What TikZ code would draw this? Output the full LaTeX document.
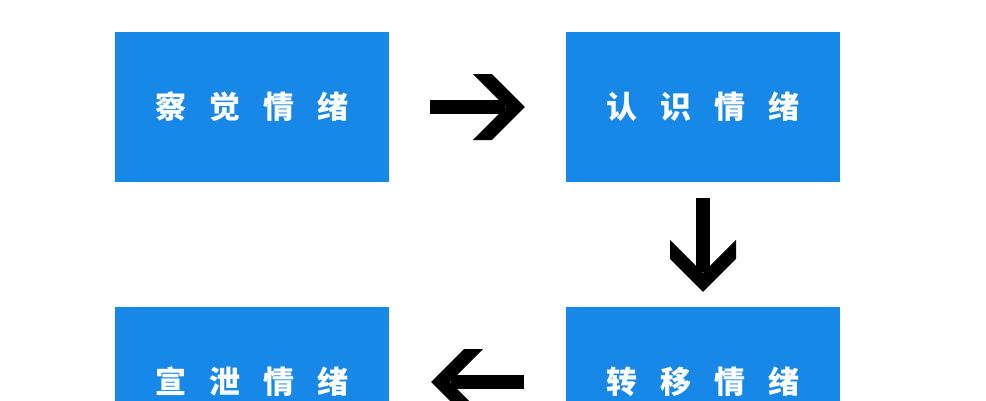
\documentclass[tikz,border=0pt]{standalone}
\usepackage{fontspec}
\newfontfamily\cjk{Noto Sans CJK SC}
\usetikzlibrary{calc}
\definecolor{boxblue}{RGB}{23,135,232}
\begin{document}
\begin{tikzpicture}[x=1pt,y=-1pt,
  box/.style={fill=boxblue, minimum width=274pt, minimum height=150pt, inner sep=0pt,
    text=white, font=\cjk\bfseries\fontsize{31}{31}\selectfont},
  shaft/.style={line width=13.5pt, black},
  headfill/.style={fill=black}]
\fill[white] (0,0) rectangle (986,400);
\useasboundingbox (0,0) rectangle (986,400);
\newcommand{\gp}{\hspace{23pt}}
\node[box] (a) at (252,107) {察\gp 觉\gp 情\gp 绪};
\node[box] (b) at (703,107) {认\gp 识\gp 情\gp 绪};
\node[box] (c) at (703,382) {转\gp 移\gp 情\gp 绪};
\node[box] (d) at (252,382) {宣\gp 泄\gp 情\gp 绪};
% right arrow a -> b
\path (a.east) ++(41,0) coordinate (ra1);
\path (b.west) ++(-41,0) coordinate (ra2);
\draw[shaft] (ra1) -- ($(ra2)+(-20,0)$);
\fill[headfill] (ra2) -- ++(-33,-33) -- ++(-19,0) -- ++(33,33) -- ++(-33,33) -- ++(19,0) -- cycle;
% down arrow b -> c
\path (b.south) ++(0,16) coordinate (da1);
\path (c.north) ++(0,-15) coordinate (da2);
\draw[shaft] (da1) -- ($(da2)+(0,-20)$);
\fill[headfill] (da2) -- ++(-33,-33) -- ++(0,-19) -- ++(33,33) -- ++(33,-33) -- ++(0,19) -- cycle;
% left arrow c -> d
\path (c.west) ++(-42,0) coordinate (la1);
\path (d.east) ++(42,0) coordinate (la2);
\draw[shaft] (la1) -- ($(la2)+(20,0)$);
\fill[headfill] (la2) -- ++(33,-33) -- ++(19,0) -- ++(-33,33) -- ++(33,33) -- ++(-19,0) -- cycle;
\end{tikzpicture}
\end{document}
